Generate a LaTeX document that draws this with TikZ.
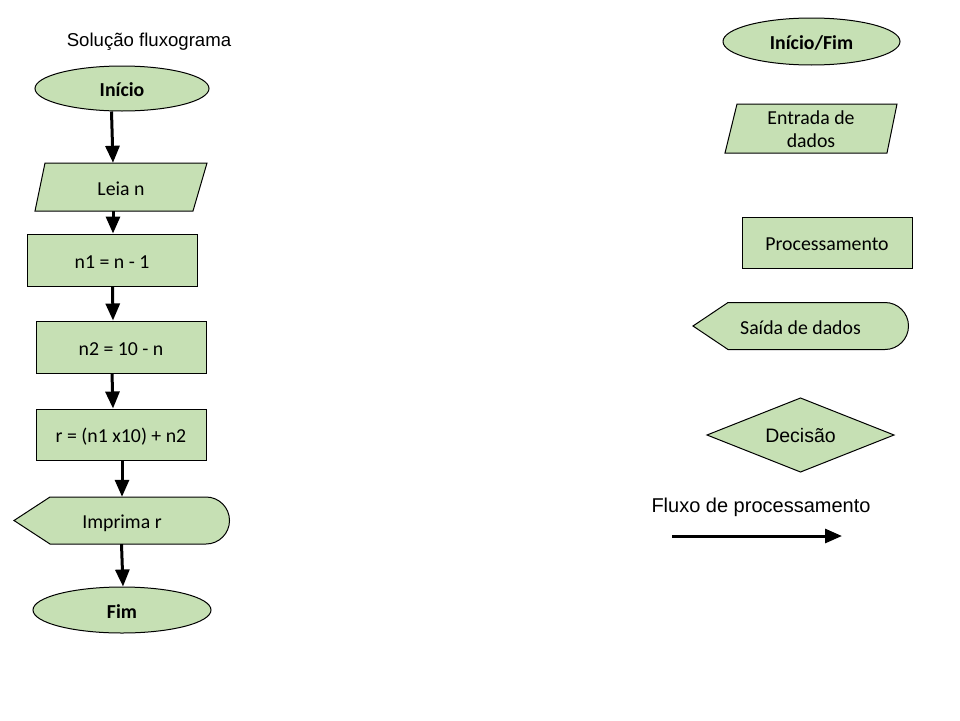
\documentclass[tikz,border=0pt]{standalone}
\usepackage{fontspec}
\setmainfont{Carlito}
\newfontfamily\arialf{Liberation Sans}
\usetikzlibrary{shapes.geometric,arrows.meta}
\definecolor{boxgreen}{HTML}{C6E0B4}
\tikzset{
  outl/.style={draw=black, line width=1pt, fill=boxgreen},
  txt/.style={font=\fontsize{19.8}{24}\selectfont, inner sep=0pt, text height=16.6pt, text depth=0pt},
  atxt/.style={font=\arialf\fontsize{19.5}{23}\selectfont, inner sep=0pt, text height=14pt, text depth=0pt},
  term/.style={outl, ellipse, inner sep=0pt, font=\bfseries\fontsize{19.8}{24}\selectfont, text height=16.6pt, text depth=0pt},
  proc/.style={outl, rectangle, inner sep=0pt, font=\fontsize{19.8}{24}\selectfont, text height=16.6pt, text depth=0pt},
  flow/.style={line width=3pt, -{Triangle[length=17pt,width=14pt]}},
}
\begin{document}
\begin{tikzpicture}[x=1pt,y=-1pt]
\useasboundingbox (0,0) rectangle (960,720);
% title
\node[atxt, font=\arialf\fontsize{18.6}{22}\selectfont] (title) at (149,39.5) {Solução fluxograma};
% left flowchart
\node[term, minimum width=174pt, minimum height=45pt] (inicio) at (122,88.5) {Início};
\draw[outl] (45,163) -- (207,163) -- (193,211) -- (35,211) -- cycle;
\node[txt, minimum width=170pt, minimum height=48pt] (leia) at (121,187) {Leia n};
\node[proc, minimum width=170pt, minimum height=52pt] (n1) at (112,260) {n1 = n - 1};
\node[proc, minimum width=170pt, minimum height=52pt] (n2) at (121,347) {n2 = 10 - n};
\node[proc, minimum width=170pt, minimum height=51pt] (r) at (121,434.5) {r = (n1 x10) + n2};
\draw[outl] (14,520.5) -- (50,497) -- (206,497) arc(-90:90:23.5) -- (50,544) -- cycle;
\node[txt, minimum width=215pt, minimum height=47pt] (imp) at (122,520.5) {Imprima r};
\node[term, minimum width=178pt, minimum height=46pt] (fim) at (122,610) {Fim};
% connectors
\draw[flow] ([xshift=-10.5pt]inicio.south) -- ([xshift=-8pt]leia.north);
\draw[flow] ([xshift=-8pt]leia.south) -- ([xshift=1pt]n1.north);
\draw[flow] ([xshift=0.5pt]n1.south) -- ([xshift=-8pt]n2.north);
\draw[flow] ([xshift=-9pt]n2.south) -- ([xshift=-8pt]r.north);
\draw[flow] ([xshift=1pt]r.south) -- ([xshift=0pt]imp.north);
\draw[flow] ([xshift=-0.5pt]imp.south) -- ([xshift=1pt]fim.north);
% legend
\node[term, minimum width=177pt, minimum height=47pt] (lterm) at (811.5,41.5) {Início/Fim};
\draw[outl] (737,104) -- (897,104) -- (887,153) -- (725,153) -- cycle;
\node[font=\fontsize{19.8}{23.5}\selectfont, inner sep=0pt, align=center] (lin) at (811,129) {Entrada de\\dados};
\node[proc, minimum width=170pt, minimum height=51pt] (lproc) at (827,242.5) {Processamento};
\draw[outl] (693,326) -- (728,302.5) -- (885,302.5) arc(-90:90:23.5) -- (728,349.5) -- cycle;
\node[txt, minimum width=215pt, minimum height=47pt] (lout) at (800.5,326) {Saída de dados};
\draw[outl] (707,435) -- (800.5,398) -- (894,435) -- (800.5,472) -- cycle;
\node[atxt] (ldec) at (800.5,435) {Decisão};
\node[atxt, font=\arialf\fontsize{20}{24}\selectfont] (lflow) at (761,505) {Fluxo de processamento};
\coordinate (fa) at (672,536);
\coordinate (fb) at (842,536);
\draw[flow] (fa) -- (fb);
\end{tikzpicture}
\end{document}
